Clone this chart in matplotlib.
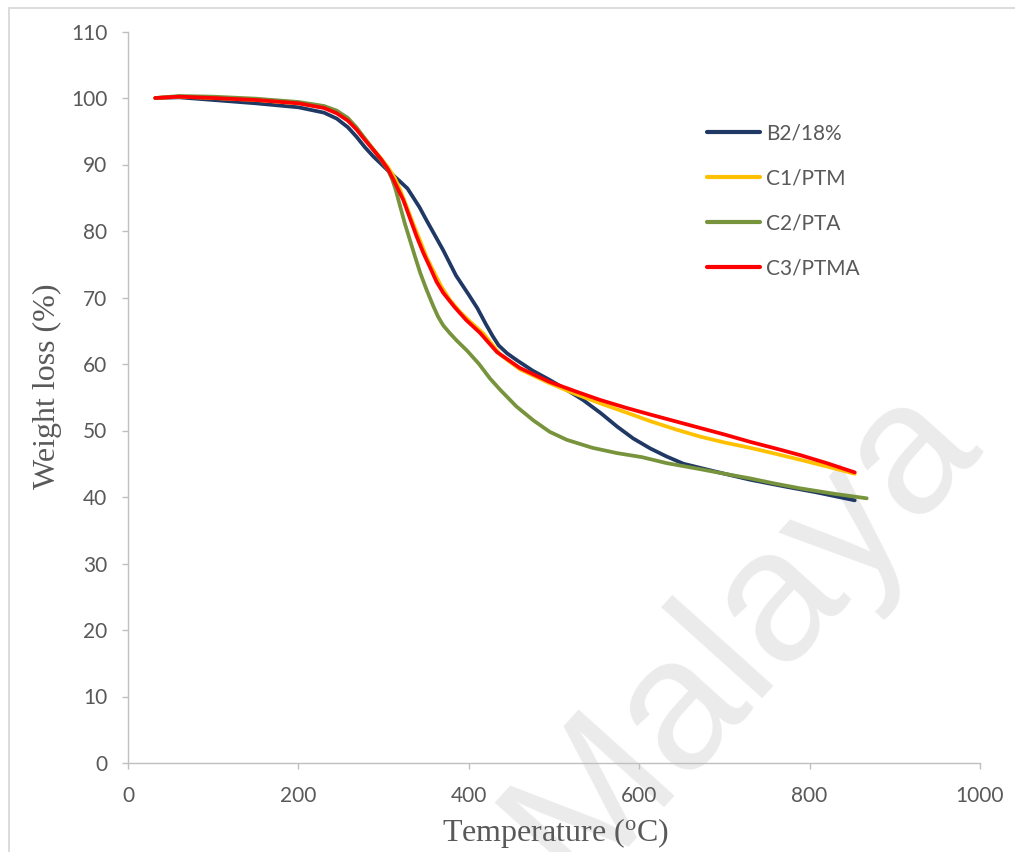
import matplotlib
matplotlib.use("Agg")
import matplotlib.pyplot as plt
from matplotlib.patches import Rectangle

plt.rcParams["mathtext.fontset"] = "custom"
plt.rcParams["mathtext.rm"] = "Liberation Serif"
plt.rcParams["mathtext.it"] = "Liberation Serif:italic"

# TGA curves: temperature (°C) and remaining weight (%)
b2_temp = [32, 60, 100, 150, 200, 230, 245, 258, 268, 278, 288, 297, 305, 318, 328, 335, 342, 350,
           360, 370, 385, 400, 410, 420, 428, 435, 445, 456, 475, 495, 515, 534, 555, 574, 593, 613,
           632, 652, 671, 700, 730, 770, 808, 853]
b2_wt = [100, 100.1, 99.7, 99.2, 98.6, 97.8, 96.9, 95.6, 94.2, 92.6, 91.2, 90.1, 89.1, 87.6, 86.4,
         85.0, 83.6, 81.7, 79.4, 77.1, 73.3, 70.4, 68.4, 66.0, 64.2, 62.8, 61.6, 60.6, 59.0, 57.6,
         56.1, 54.6, 52.6, 50.6, 48.8, 47.3, 46.1, 45.0, 44.4, 43.5, 42.6, 41.6, 40.7, 39.5]

c1_temp = [32, 60, 100, 150, 200, 230, 245, 258, 268, 278, 288, 297, 305, 313, 320, 327, 335, 343,
           350, 358, 368, 378, 390, 403, 417, 437, 460, 495, 525, 554, 585, 613, 642, 671, 700, 730,
           760, 789, 820, 853]
c1_wt = [100, 100.2, 100.0, 99.7, 99.2, 98.6, 97.9, 96.8, 95.5, 93.9, 92.3, 90.9, 89.6, 88.0, 86.0,
         83.7, 81.0, 78.5, 76.2, 74.1, 71.6, 69.6, 67.8, 66.2, 64.6, 61.4, 59.2, 57.1, 55.5, 54.1,
         52.7, 51.4, 50.2, 49.1, 48.2, 47.4, 46.5, 45.6, 44.6, 43.5]

c2_temp = [32, 60, 100, 150, 200, 230, 245, 258, 268, 278, 288, 297, 305, 310, 314, 319, 325, 331,
           337, 343, 350, 358, 364, 370, 378, 386, 398, 412, 425, 437, 456, 476, 495, 515, 545, 574,
           603, 632, 671, 700, 730, 760, 789, 828, 867]
c2_wt = [100, 100.3, 100.2, 99.9, 99.4, 98.8, 98.1, 97.0, 95.6, 93.9, 92.2, 90.7, 89.2, 87.8, 86.3,
         83.9, 81.1, 78.6, 76.1, 73.7, 71.3, 68.8, 67.1, 65.8, 64.6, 63.5, 62.0, 60.0, 57.8, 56.1,
         53.6, 51.5, 49.8, 48.6, 47.4, 46.6, 46.0, 45.1, 44.2, 43.5, 42.8, 42.0, 41.3, 40.5, 39.8]

c3_temp = [32, 60, 100, 150, 200, 230, 245, 258, 268, 278, 288, 297, 305, 312, 318, 323, 331, 339,
           347, 355, 362, 370, 383, 397, 413, 433, 460, 495, 525, 554, 585, 613, 642, 671, 700, 730,
           760, 789, 820, 853]
c3_wt = [100, 100.2, 100.0, 99.7, 99.2, 98.5, 97.7, 96.6, 95.3, 93.7, 92.2, 90.8, 89.3, 87.6, 86.0,
         84.7, 81.9, 79.1, 76.6, 74.4, 72.4, 70.7, 68.6, 66.6, 64.7, 61.8, 59.4, 57.3, 55.9, 54.6,
         53.4, 52.4, 51.4, 50.4, 49.4, 48.3, 47.3, 46.3, 45.1, 43.7]

series_labels = ["B2/18%", "C1/PTM", "C2/PTA", "C3/PTMA"]
series_colors = ["#203864", "#FFC000", "#77933C", "#FF0000"]

x_ticks = [0, 200, 400, 600, 800, 1000]
y_ticks = [0, 10, 20, 30, 40, 50, 60, 70, 80, 90, 100, 110]

tick_font = "Lato"
title_font = "Liberation Serif"
gray_text = "#595959"
axis_gray = "#BFBFBF"

fig = plt.figure(figsize=(10.15, 8.52), dpi=100)
fig.patch.set_facecolor("white")

# chart frame (left and top edges visible)
fig.patches.append(Rectangle((9 / 1015, -0.05), 1.2, 1 - 8 / 852 + 0.05, transform=fig.transFigure,
                             fill=False, edgecolor="#D9D9D9", linewidth=1.3, zorder=0))

ax = fig.add_axes([128 / 1015, 1 - 763 / 852, (980 - 128) / 1015, (763 - 31.5) / 852])
ax.set_xlim(0, 1000)
ax.set_ylim(0, 110)

# faint diagonal watermark
ax.text(0.72, 0.18, "Malaya", transform=ax.transAxes, fontsize=135, color="#EBEBEB",
        family="Liberation Sans", rotation=48, ha="center", va="center", zorder=0, clip_on=False)

curves = [(b2_temp, b2_wt), (c1_temp, c1_wt), (c2_temp, c2_wt), (c3_temp, c3_wt)]
for i, (t, w) in enumerate(curves):
    ax.plot(t, w, color=series_colors[i], linewidth=2.7, solid_joinstyle="round",
            solid_capstyle="round", label=series_labels[i], zorder=3 + i)

for s in ["top", "right"]:
    ax.spines[s].set_visible(False)
for s in ["left", "bottom"]:
    ax.spines[s].set_color(axis_gray)
    ax.spines[s].set_linewidth(1.0)

ax.set_xticks(x_ticks)
ax.set_yticks(y_ticks)
ax.tick_params(axis="both", direction="out", length=4.3, width=1.0, color=axis_gray,
               labelcolor=gray_text, labelsize=15)
ax.tick_params(axis="x", pad=12)
ax.tick_params(axis="y", pad=10.5)
for lab in ax.get_xticklabels() + ax.get_yticklabels():
    lab.set_fontfamily(tick_font)

ax.set_xlabel("Temperature ($\\mathregular{^{o}}$C)", fontsize=23, family=title_font, color=gray_text)
ax.xaxis.set_label_coords(0.502, -0.0957)
ax.xaxis.label.set_verticalalignment("center")
ax.set_ylabel("Weight loss (%)", fontsize=23, family=title_font, color=gray_text)
ax.yaxis.set_label_coords(-0.094, 0.515)
ax.yaxis.label.set_verticalalignment("center")

leg = ax.legend(loc="upper left", bbox_to_anchor=(0.6796, 0.874), frameon=False,
                handlelength=2.55, handletextpad=0.3, labelspacing=1.2, borderpad=0,
                borderaxespad=0, prop={"family": tick_font, "size": 15})
for txt in leg.get_texts():
    txt.set_color(gray_text)
for line in leg.get_lines():
    line.set_linewidth(3)

fig.savefig("out.png", dpi=100, facecolor="white")
